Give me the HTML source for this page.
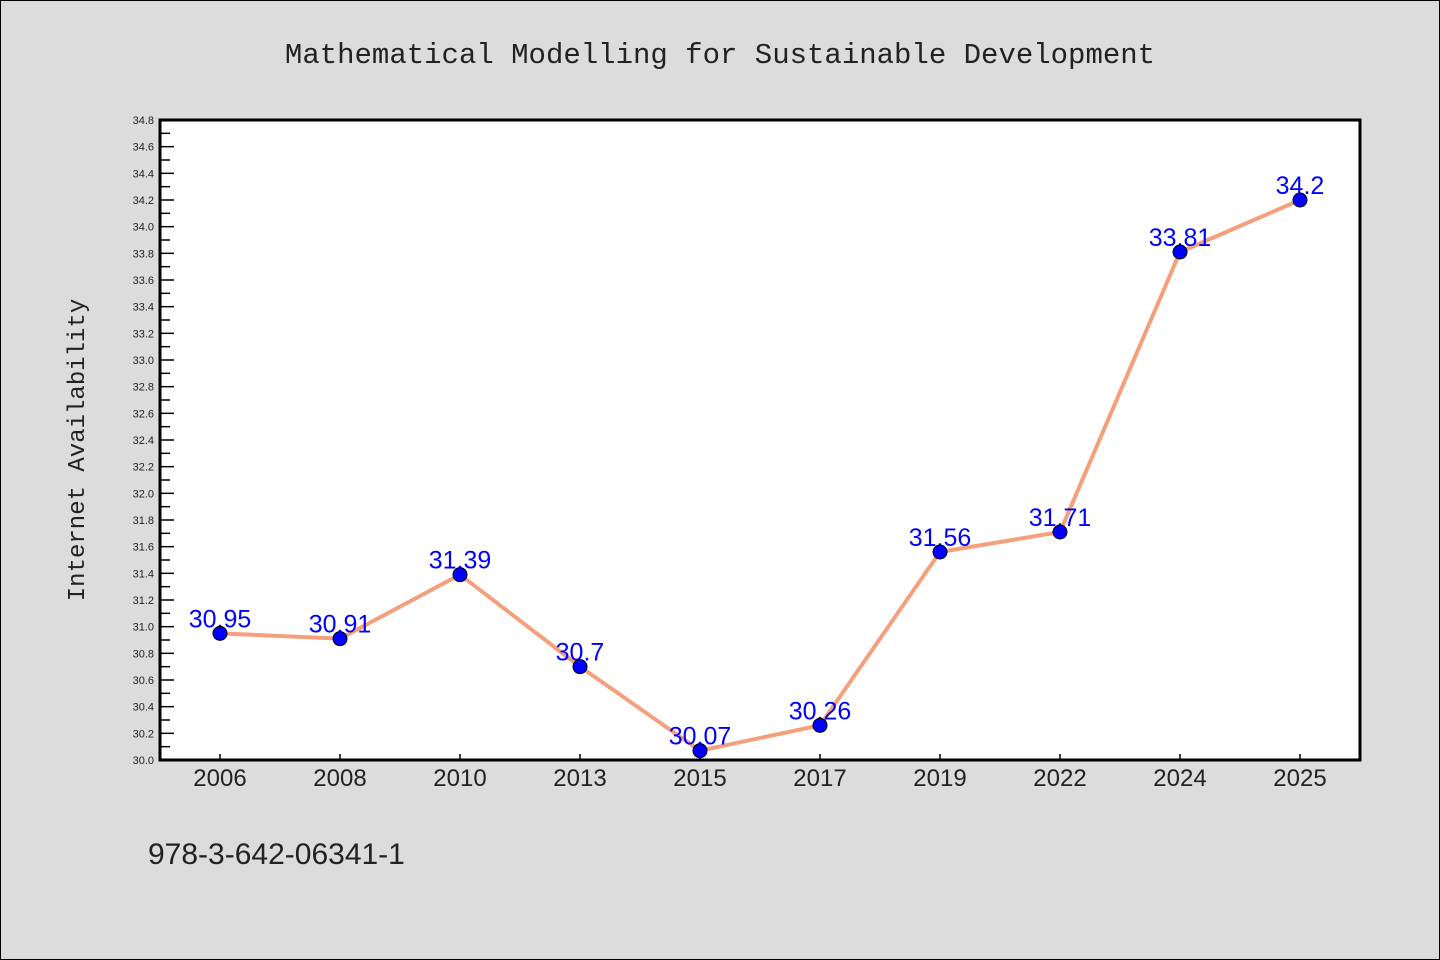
<!DOCTYPE html>
<html><head><meta charset="utf-8"><style>
body{margin:0;background:#dcdcdc;}
svg{display:block;font-family:"Liberation Sans","WenQuanYi Zen Hei",sans-serif;}
</style></head><body>
<svg id="c" width="1440" height="960">
<rect x="0.5" y="0.5" width="1439" height="959" fill="#dcdcdc" stroke="#000"/>
<text x="720" y="63" text-anchor="middle" font-size="29" font-family="Liberation Mono, monospace" fill="#222">Mathematical Modelling for Sustainable Development</text>
<rect x="160" y="120" width="1200" height="640" fill="#fff"/>
<g id="yt"></g><g id="xt"></g><g id="lines"></g><g id="pts"></g>
<rect x="160" y="120" width="1200" height="640" fill="none" stroke="#000" stroke-width="3"/>
<text transform="translate(84,450) rotate(-90)" text-anchor="middle" font-size="24" font-family="Liberation Mono, monospace" fill="#222">Internet Availability</text>
<text x="148" y="864" font-size="30" fill="#222">978-3-642-06341-1</text>
</svg>
<script>
const categories=["2006","2008","2010","2013","2015","2017","2019","2022","2024","2025"];
const values=[30.95,30.91,31.39,30.7,30.07,30.26,31.56,31.71,33.81,34.2];
const labels=["30.95","30.91","31.39","30.7","30.07","30.26","31.56","31.71","33.81","34.2"];
const yMin=30.0,yMax=34.8;
const NS="http://www.w3.org/2000/svg";
const L=160,T=120,W=1200,H=640;
const xs=i=>L+W/categories.length*(i+0.5);
const ys=v=>T+H-(v-yMin)/(yMax-yMin)*H;
function mk(t,a,p){const e=document.createElementNS(NS,t);for(const k in a)e.setAttribute(k,a[k]);p.appendChild(e);return e;}
const yt=document.getElementById('yt');
for(let k=0;k<=48;k++){const v=yMin+k*0.1;const y=ys(v);const major=k%2===0;
 const tk=mk('line',{x1:L,x2:L+(major?14:10),y1:y,y2:y,stroke:'#000','stroke-width':1.5},yt);
 
 
 if(major){const t=mk('text',{x:L-6,y:y+4,'text-anchor':'end','font-size':11,fill:'#222'},yt);t.textContent=v.toFixed(1);
 
 }}
const xt=document.getElementById('xt');
categories.forEach((c,i)=>{const x=xs(i);
 const tk=mk('line',{x1:x,x2:x,y1:T+H,y2:T+H-6,stroke:'#000','stroke-width':1.5},xt);
 
 
 const t=mk('text',{x:x,y:T+H+26,'text-anchor':'middle','font-size':24,fill:'#222'},xt);t.textContent=c;
 
 });
const pts=values.map((v,i)=>xs(i)+','+ys(v)).join(' ');
const pl=mk('polyline',{points:pts,fill:'none',stroke:'#f4a07c','stroke-width':4,'stroke-linejoin':'round'},document.getElementById('lines'));


const pg=document.getElementById('pts');
values.forEach((v,i)=>{const x=xs(i),y=ys(v);
 const t=mk('text',{x:x,y:y-6,'text-anchor':'middle','font-size':25,fill:'#0000ff'},pg);t.textContent=labels[i];
 
 
 const c=mk('circle',{cx:x,cy:y,r:7,fill:'#0000ff',stroke:'#000','stroke-width':1},pg);
 
 });
</script>
</body></html>
